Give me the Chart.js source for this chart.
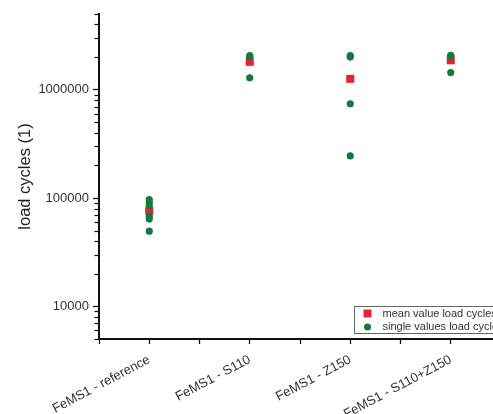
<!DOCTYPE html>
<html><head><meta charset="utf-8">
<script src="https://cdn.jsdelivr.net/npm/chart.js@4.4.0/dist/chart.umd.min.js"></script>
<style>
html,body{margin:0;padding:0;overflow:hidden;background:#fff;width:493px;height:414px}
#wrap{position:absolute;left:0;top:0;width:510px;height:414px}
</style></head><body>
<div id="wrap"><canvas id="c" width="510" height="414"></canvas></div>
<script>
const categories = ['FeMS1 - reference', 'FeMS1 - S110', 'FeMS1 - Z150', 'FeMS1 - S110+Z150'];
const singleValues = [
  [97000, 91000, 85000, 68000, 64000, 49500],
  [2060000, 2020000, 1290000],
  [2060000, 2000000, 742000, 245000],
  [2080000, 2040000, 1440000]
];
const meanValues = [76000, 1810000, 1260000, 1870000];
const yTicks = [10000, 100000, 1000000];
const yMinorMultipliers = [1, 2, 3, 4, 5, 6, 7, 8, 9];
const yDecades = [1000, 10000, 100000, 1000000];
const seriesNames = ['mean value load cycles', 'single values load cycles'];
const yTitle = 'load cycles (1)';

const GREEN = '#12793f';
const RED = '#e3262b';
const FONT = 'Liberation Sans, Arial, sans-serif';

const singlePoints = [];
singleValues.forEach((arr, i) => arr.forEach(v => singlePoints.push({x: i, y: v})));
const meanPoints = meanValues.map((v, i) => ({x: i, y: v}));

const extras = {
  id: 'extras',
  afterDraw(chart) {
    const ctx = chart.ctx, ys = chart.scales.y, ca = chart.chartArea;
    ctx.save();
    // minor y ticks
    ctx.strokeStyle = '#111';
    ctx.lineWidth = 1.2;
    ys.ticks.forEach(t => {
      if (!yTicks.includes(t.value)) {
        const py = Math.round(ys.getPixelForValue(t.value)) + 0.5;
        ctx.beginPath();
        ctx.moveTo(ca.left - 1, py);
        ctx.lineTo(ca.left - 4.5, py);
        ctx.stroke();
      }
    });
    // legend box
    const bx = ca.left + 255.5, by = ca.top + 292.5, bw = chart.width, bh = 27;
    ctx.fillStyle = '#fff';
    ctx.fillRect(bx, by, bw, bh);
    ctx.strokeStyle = '#666';
    ctx.lineWidth = 1;
    ctx.strokeRect(bx, by, bw, bh);
    const mx = bx + 13, r1 = by + 7, r2 = by + 20.5;
    ctx.fillStyle = RED;
    ctx.fillRect(mx - 4, r1 - 4, 8, 8);
    ctx.fillStyle = GREEN;
    ctx.beginPath();
    ctx.arc(mx, r2, 3.5, 0, Math.PI * 2);
    ctx.fill();
    ctx.fillStyle = '#333';
    ctx.font = '11px ' + FONT;
    ctx.textBaseline = 'middle';
    ctx.textAlign = 'left';
    ctx.fillText(seriesNames[0], mx + 15, r1);
    ctx.fillText(seriesNames[1], mx + 15, r2);
    ctx.restore();
  }
};

new Chart(document.getElementById('c'), {
  type: 'scatter',
  data: {
    datasets: [
      {
        label: seriesNames[1], data: singlePoints, order: 0,
        pointStyle: 'circle', pointRadius: 3.6, pointBorderWidth: 0,
        backgroundColor: GREEN, borderColor: GREEN
      },
      {
        label: seriesNames[0], data: meanPoints, order: 1,
        pointStyle: 'rect', pointRadius: 5.7, pointBorderWidth: 0,
        backgroundColor: RED, borderColor: RED
      }
    ]
  },
  options: {
    responsive: false,
    animation: false,
    devicePixelRatio: 1,
    layout: {padding: {top: 14, right: 9, left: 0, bottom: 0}},
    plugins: {legend: {display: false}, tooltip: {enabled: false}},
    scales: {
      x: {
        type: 'linear', min: -0.5, max: 3.5,
        afterFit: s => { s.height = 75; s.paddingLeft = 0; s.paddingRight = 0; },
        afterBuildTicks: s => {
          const t = [];
          for (let i = -1; i <= 7; i++) t.push({value: i / 2});
          s.ticks = t;
        },
        grid: {drawOnChartArea: false, drawTicks: true, tickLength: 5, tickWidth: 1.3, tickColor: '#111'},
        border: {display: true, color: '#111', width: 2},
        ticks: {
          autoSkip: false, minRotation: 28, maxRotation: 28, padding: 8,
          color: '#333', font: {family: FONT, size: 13},
          callback: v => Number.isInteger(v) && v >= 0 && v < categories.length ? categories[v] : ''
        }
      },
      y: {
        type: 'logarithmic', min: 5000, max: 5000000,
        afterFit: s => { s.width = 99; s.paddingTop = 0; s.paddingBottom = 0; },
        afterBuildTicks: s => {
          const t = [];
          yDecades.forEach(d => yMinorMultipliers.forEach(m => {
            const v = d * m;
            if (v >= 5000 && v <= 5000000) t.push({value: v});
          }));
          s.ticks = t;
        },
        grid: {
          drawOnChartArea: false, drawTicks: true, tickLength: 6, tickWidth: 1.3,
          tickColor: c => (c.tick && yTicks.includes(c.tick.value)) ? '#111' : 'rgba(0,0,0,0)'
        },
        border: {display: true, color: '#111', width: 2},
        title: {display: true, text: yTitle, color: '#222', font: {family: FONT, size: 16.5}, padding: {top: 16, bottom: 0}},
        ticks: {
          autoSkip: false, padding: 4, color: '#333', font: {family: FONT, size: 13},
          callback: v => yTicks.includes(v) ? String(v) : ''
        }
      }
    }
  },
  plugins: [extras]
});
</script>
</body></html>
